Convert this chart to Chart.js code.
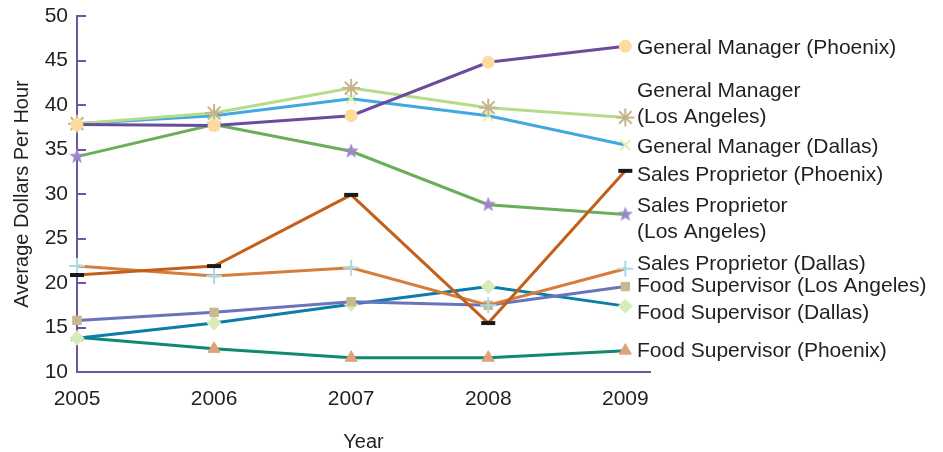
<!DOCTYPE html>
<html>
<head>
<meta charset="utf-8">
<script src="https://cdn.jsdelivr.net/npm/chart.js@4.4.1/dist/chart.umd.min.js"></script>
<style>
  html, body { margin: 0; padding: 0; background: #fff; }
  #wrap { width: 943px; height: 452px; }
</style>
</head>
<body>
<div id="wrap"><canvas id="chart"></canvas></div>
<script>
const years = [2005, 2006, 2007, 2008, 2009];
const yTicks = [10, 15, 20, 25, 30, 35, 40, 45, 50];

const seriesNames = [
    "General Manager (Phoenix)",
    "General Manager\n(Los Angeles)",
    "General Manager (Dallas)",
    "Sales Proprietor (Phoenix)",
    "Sales Proprietor\n(Los Angeles)",
    "Sales Proprietor (Dallas)",
    "Food Supervisor (Los Angeles)",
    "Food Supervisor (Dallas)",
    "Food Supervisor (Phoenix)"
];

const gmPhoenix = [37.8, 37.7, 38.8, 44.8, 46.6];
const gmLosAngeles = [37.9, 39.1, 41.9, 39.7, 38.6];
const gmDallas = [37.9, 38.8, 40.7, 38.8, 35.5];
const spPhoenix = [20.9, 21.9, 29.9, 15.5, 32.6];
const spLosAngeles = [34.2, 37.8, 34.8, 28.8, 27.7];
const spDallas = [21.9, 20.8, 21.7, 17.5, 21.6];
const fsLosAngeles = [15.8, 16.7, 17.9, 17.5, 19.6];
const fsDallas = [13.8, 15.5, 17.6, 19.6, 17.4];
const fsPhoenix = [13.9, 12.6, 11.6, 11.6, 12.4];

const allSeries = [gmPhoenix, gmLosAngeles, gmDallas, spPhoenix, spLosAngeles,
    spDallas, fsLosAngeles, fsDallas, fsPhoenix];

const font = "'Liberation Sans', Arial, Helvetica, sans-serif";
const textColor = "#231f20";
const axisColor = "#6b57a5";

// filled five point star for the sales proprietor (LA) markers
function makeStar(color, r) {
    const c = document.createElement("canvas");
    c.width = c.height = r * 2 + 2;
    const g = c.getContext("2d");
    g.fillStyle = color;
    g.beginPath();
    for (let i = 0; i < 10; i++) {
        const rad = i % 2 === 0 ? r : r * 0.42;
        const a = -Math.PI / 2 + i * Math.PI / 5;
        g.lineTo(r + 1 + rad * Math.cos(a), r + 1 + rad * Math.sin(a));
    }
    g.closePath();
    g.fill();
    return c;
}

const lineColors = ["#6a4c9c", "#b4dc8a", "#3fa9e1", "#c45f1a", "#6aae5c",
    "#d57d3c", "#6a74bc", "#0a7ea8", "#0f8a70"];
const markerColors = ["#fddb9c", "#c8b48a", "#e3f0a8", "#1a1a1a", "#9c88c8",
    "#a9dbe6", "#c9b98d", "#d8ecbb", "#e0a27a"];
const markerStyles = ["circle", "star", "crossRot", "line", makeStar("#9c88c8", 8),
    "cross", "rect", "rectRot", "triangle"];
const markerRadius = [6, 9, 7, 7, 8, 8, 6, 7, 7];
const markerBorder = [1, 2, 2, 4, 1, 2, 1, 1, 1];
const filled = [true, false, false, false, true, false, true, true, true];

// vertical nudges of the end labels relative to their last point
const labelNudge = [2, -26, 2, 4, -8, -5, 0, 7, 1];

const datasets = allSeries.map((vals, i) => ({
    label: seriesNames[i],
    data: vals.map((v, j) => ({ x: years[j], y: v })),
    borderColor: lineColors[i],
    borderWidth: 3,
    pointStyle: markerStyles[i],
    pointRadius: markerRadius[i],
    pointBorderWidth: markerBorder[i],
    pointBorderColor: markerColors[i],
    pointBackgroundColor: filled[i] ? markerColors[i] : "transparent",
    tension: 0,
    clip: false
}));

const endLabels = {
    id: "endLabels",
    afterDatasetsDraw(chart) {
        const ctx = chart.ctx;
        ctx.save();
        ctx.font = "21px " + font;
        ctx.fillStyle = textColor;
        ctx.textBaseline = "middle";
        ctx.textAlign = "left";
        chart.data.datasets.forEach((ds, i) => {
            const pts = chart.getDatasetMeta(i).data;
            const last = pts[pts.length - 1];
            const lines = ds.label.split("\n");
            lines.forEach((t, j) => {
                ctx.fillText(t, 637, last.y + labelNudge[i] + j * 26);
            });
        });
        ctx.restore();
    }
};

const innerTicks = {
    id: "innerTicks",
    beforeDatasetsDraw(chart) {
        const ctx = chart.ctx;
        const y = chart.scales.y;
        const left = chart.chartArea.left;
        ctx.save();
        ctx.strokeStyle = axisColor;
        ctx.lineWidth = 2;
        yTicks.forEach(v => {
            if (v === yTicks[0]) return;
            const py = Math.round(y.getPixelForValue(v));
            ctx.beginPath();
            ctx.moveTo(left, py);
            ctx.lineTo(left + 9, py);
            ctx.stroke();
        });
        ctx.restore();
    }
};

new Chart(document.getElementById("chart"), {
    type: "line",
    data: { datasets },
    plugins: [innerTicks, endLabels],
    options: {
        responsive: true,
        maintainAspectRatio: false,
        animation: false,
        layout: { autoPadding: false, padding: { top: 16, right: 293, left: 0, bottom: 0 } },
        plugins: {
            legend: { display: false },
            tooltip: { enabled: false }
        },
        scales: {
            x: {
                type: "linear",
                min: 2005,
                max: 2009.18,
                afterBuildTicks: s => { s.ticks = years.map(v => ({ value: v })); },
                afterFit: s => { s.height = 80; s.paddingLeft = 0; s.paddingRight = 0; },
                grid: { display: false, drawTicks: false },
                border: { display: true, color: axisColor, width: 2 },
                ticks: {
                    color: textColor,
                    font: { family: font, size: 21 },
                    padding: 15,
                    maxRotation: 0,
                    callback: v => String(v)
                },
                title: {
                    display: true,
                    text: "Year",
                    color: textColor,
                    font: { family: font, size: 20 },
                    padding: { top: 0, bottom: -2 }
                }
            },
            y: {
                min: 10,
                max: 50,
                afterBuildTicks: s => { s.ticks = yTicks.map(v => ({ value: v })); },
                afterFit: s => { s.width = 77; s.paddingTop = 0; s.paddingBottom = 0; },
                grid: { display: false, drawTicks: false },
                border: { display: true, color: axisColor, width: 2 },
                ticks: {
                    color: textColor,
                    font: { family: font, size: 21 },
                    padding: 9
                },
                title: {
                    display: true,
                    text: "Average Dollars Per Hour",
                    color: textColor,
                    font: { family: font, size: 20 },
                    padding: { top: 10, bottom: 0 }
                }
            }
        }
    }
});
</script>
</body>
</html>
